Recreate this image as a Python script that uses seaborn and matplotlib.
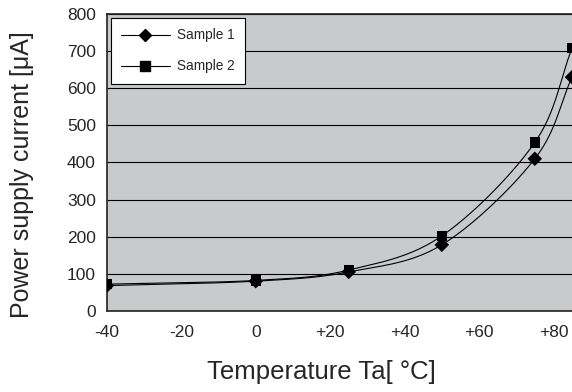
import numpy as np
import pandas as pd
import matplotlib
matplotlib.use("Agg")
import matplotlib.pyplot as plt
import seaborn as sns

# Values
temperature = [-40, 0, 25, 50, 75, 85]
sample1 = [68, 80, 105, 178, 410, 630]
sample2 = [72, 82, 110, 202, 454, 708]
x_ticks = [-40, -20, 0, 20, 40, 60, 80]
x_tick_labels = ["-40", "-20", "0", "+20", "+40", "+60", "+80"]
y_ticks = [0, 100, 200, 300, 400, 500, 600, 700, 800]


def smooth_curve(xs, ys, n=40):
    """Catmull-Rom spline through the points (like a spreadsheet's smoothed line)."""
    xs = np.asarray(xs, float)
    ys = np.asarray(ys, float)
    px = np.concatenate([[2 * xs[0] - xs[1]], xs, [2 * xs[-1] - xs[-2]]])
    py = np.concatenate([[2 * ys[0] - ys[1]], ys, [2 * ys[-1] - ys[-2]]])
    out_x, out_y = [], []
    t = np.linspace(0, 1, n)
    for i in range(1, len(px) - 2):
        for p, out in ((px, out_x), (py, out_y)):
            p0, p1, p2, p3 = p[i - 1], p[i], p[i + 1], p[i + 2]
            seg = 0.5 * ((2 * p1) + (-p0 + p2) * t
                         + (2 * p0 - 5 * p1 + 4 * p2 - p3) * t ** 2
                         + (-p0 + 3 * p1 - 3 * p2 + p3) * t ** 3)
            out.extend(seg)
    return np.array(out_x), np.array(out_y)


df = pd.DataFrame({
    "Temperature": temperature * 2,
    "Current": sample1 + sample2,
    "Sample": ["Sample 1"] * len(temperature) + ["Sample 2"] * len(temperature),
})

sns.set_style("white")
plt.rcParams["font.family"] = ["Liberation Sans", "DejaVu Sans"]

fig = plt.figure(figsize=(5.72, 3.92), dpi=100)
ax = fig.add_axes([0.187, 0.207, 0.813, 0.757])
ax.set_facecolor("#c9cacc")

# Smoothed connecting lines
for name in ["Sample 1", "Sample 2"]:
    sub = df[df["Sample"] == name]
    cx, cy = smooth_curve(sub["Temperature"], sub["Current"])
    ax.plot(cx, cy, color="black", lw=0.8, zorder=3)

sns.scatterplot(data=df, x="Temperature", y="Current", style="Sample",
                markers={"Sample 1": "D", "Sample 2": "s"},
                color="black", s=55, edgecolor="black", linewidth=0,
                legend=False, ax=ax, zorder=4)

ax.set_xlim(-40, 85)
ax.set_ylim(0, 800)
ax.set_xticks(x_ticks)
ax.set_xticklabels(x_tick_labels)
ax.set_yticks(y_ticks)
ax.yaxis.grid(True, color="black", lw=0.8)
ax.set_axisbelow(True)
ax.tick_params(axis="x", direction="in", length=4, color="#3a5a6a",
               labelsize=12.5, pad=10)
ax.tick_params(axis="y", direction="in", length=0, labelsize=12.5, pad=8)
for side in ["left", "bottom", "top"]:
    ax.spines[side].set_color("#222222")
    ax.spines[side].set_linewidth(1.2)
ax.spines["right"].set_visible(False)

ax.set_xlabel("Temperature Ta[ °C]", fontsize=18.5)
ax.set_ylabel("Power supply current [μA]", fontsize=18)
ax.xaxis.set_label_coords(0.462, -0.165)
ax.yaxis.set_label_coords(-0.157, 0.46)

# Legend
h1 = plt.Line2D([], [], color="black", lw=0.8, marker="D", markersize=6.5)
h2 = plt.Line2D([], [], color="black", lw=0.8, marker="s", markersize=7.5)
leg = ax.legend([h1, h2], ["Sample 1", "Sample 2"], loc="upper left",
                bbox_to_anchor=(0.0, 1.0), borderaxespad=0.3,
                fontsize=9.8, frameon=True,
                fancybox=False, framealpha=1, edgecolor="black",
                handlelength=3.55, borderpad=0.75, labelspacing=1.25,
                handletextpad=0.55)
leg.get_frame().set_linewidth(0.8)

fig.savefig("out.png", dpi=100)
